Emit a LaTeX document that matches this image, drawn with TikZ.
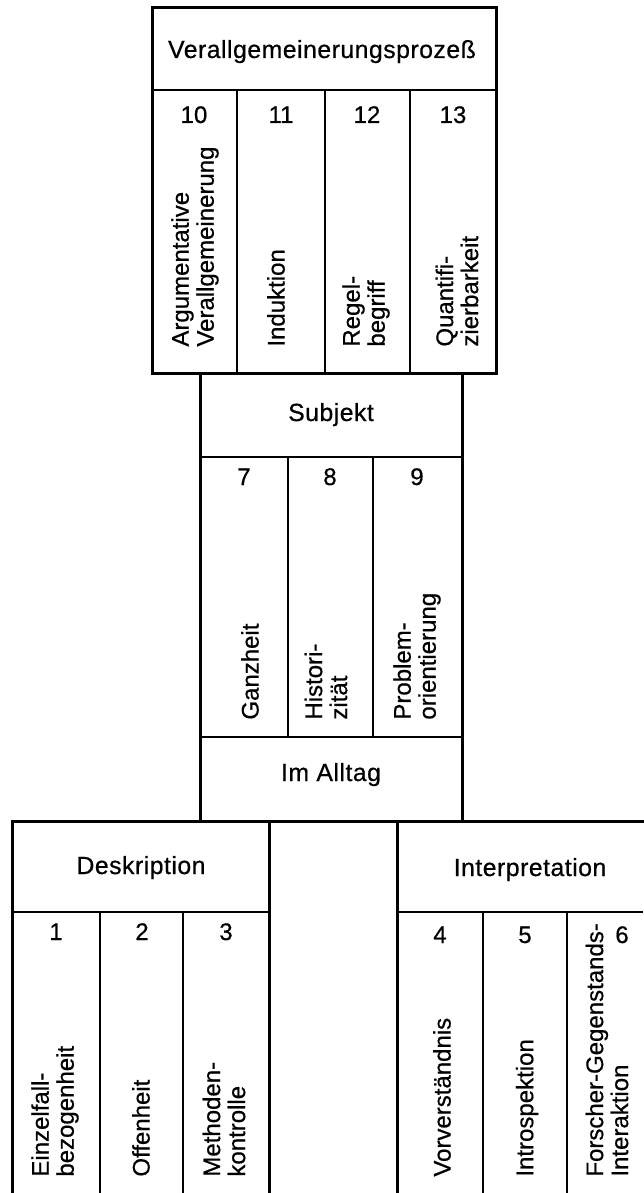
\documentclass[tikz,border=0pt]{standalone}
\usepackage{fontspec}
\setmainfont[FakeBold=0.6]{Liberation Sans}
\begin{document}
\begin{tikzpicture}[x=0.5pt,y=-0.5pt,
  outer/.style={line width=1.5pt, line cap=rect},
  inner/.style={line width=1pt},
  lbl/.style={inner sep=0pt, font=\fontsize{12}{12.5}\selectfont},
  rot/.style={lbl, rotate=90, anchor=west, align=left},
  num/.style={lbl, anchor=base},
  head/.style={inner sep=0pt, anchor=base, font=\fontsize{12.4}{13}\selectfont\addfontfeature{LetterSpace=2}}]
\useasboundingbox (0,0) rectangle (643,1193);

% top box: Verallgemeinerungsprozess
\draw[outer] (152,8) rectangle (496,373);
\draw[inner] (152,90) -- (496,90);
\foreach \x in {237,325,410} \draw[inner] (\x,90) -- (\x,373);

% middle box: Subjekt
\draw[outer] (200,373) -- (200,821);
\draw[outer] (462,373) -- (462,821);
\draw[inner] (200,457) -- (462,457);
\draw[inner] (200,737) -- (462,737);
\foreach \x in {288,373} \draw[inner] (\x,457) -- (\x,737);

% bottom row
\draw[outer] (12,1193) -- (12,821) -- (643,821);
\draw[outer] (269,821) -- (269,1193);
\draw[outer] (397,821) -- (397,1193);
\draw[inner] (12,912) -- (269,912);
\draw[inner] (397,912) -- (643,912);
\foreach \x in {100,183,483,567} \draw[inner] (\x,912) -- (\x,1193);

% texts top
\node[head] (tVG) at (322,58) {Verallgemeinerungsprozeß};
\node[num] (n10) at (194,123) {10};
\node[num] (n11) at (281,123) {11};
\node[num] (n12) at (367,123) {12};
\node[num] (n13) at (453,123) {13};
\node[rot] (r10) at (195,347) {Argumentative\\Verallgemeinerung};
\node[rot] (r11) at (276,347) {Induktion};
\node[rot] (r12) at (366,347) {Regel-\\begriff};
\node[rot] (r13) at (457,347) {Quantifi-\\zierbarkeit};

% texts middle
\node[head] (tSub) at (331,421) {Subjekt};
\node[num] (n7) at (244,485) {7};
\node[num] (n8) at (330,485) {8};
\node[num] (n9) at (417,485) {9};
\node[rot] (r7) at (250,720) {Ganzheit};
\node[rot] (r8) at (326,720) {Histori-\\zität};
\node[rot] (r9) at (417,720) {Problem-\\orientierung};
\node[head] (tAll) at (331,781) {Im Alltag};

% texts bottom left
\node[head] (tDes) at (141,874) {Deskription};
\node[num] (n1) at (56,940) {1};
\node[num] (n2) at (142,940) {2};
\node[num] (n3) at (226,940) {3};
\node[rot] (r1) at (55,1177) {Einzelfall-\\bezogenheit};
\node[rot] (r2) at (141,1177) {Offenheit};
\node[rot] (r3) at (224,1177) {Methoden-\\kontrolle};

% texts bottom right
\node[head] (tInt) at (530,876) {Interpretation};
\node[num] (n4) at (440,943) {4};
\node[num] (n5) at (525,943) {5};
\node[num] (n6) at (622,943) {6};
\node[rot] (r4) at (442,1177) {Vorverständnis};
\node[rot] (r5) at (527,1177) {Introspektion};
\node[rot] (r6) at (607,1177) {Forscher-Gegenstands-\\Interaktion};
\end{tikzpicture}
\end{document}
